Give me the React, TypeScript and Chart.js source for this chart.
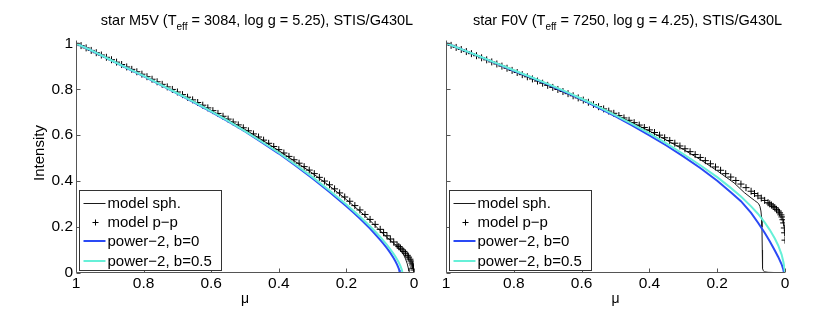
import React, { useEffect, useRef } from "react";
import { Chart, registerables } from "chart.js";

Chart.register(...registerables);

const FONT = '"Liberation Sans", Arial, Helvetica, sans-serif';

const X_TICKS = [0, 0.2, 0.4, 0.6, 0.8, 1];
const Y_TICKS = [0, 0.2, 0.4, 0.6, 0.8, 1];
const LEGEND_LABELS = ["model sph.", "model p\u2212p", "power\u22122, b=0", "power\u22122, b=0.5"];
const TITLE_LEFT = ["star M5V (T", "eff", " = 3084, log g = 5.25), STIS/G430L"];
const TITLE_RIGHT = ["star F0V (T", "eff", " = 7250, log g = 4.25), STIS/G430L"];
const Y_LABEL = "Intensity";
const X_LABEL = "\u03bc";

// plane-parallel model grid (shared by both panels)
const PP_MU = [1, .985, .97, .955, .94, .925, .91, .895, .88, .865, .85, .835, .82, .805, .79, .775, .76, .745, .73, .715,
  .7, .685, .67, .655, .64, .625, .61, .595, .58, .565, .55, .535, .52, .505, .49, .475, .46, .445, .43, .415,
  .4, .385, .37, .355, .34, .325, .31, .295, .28, .265, .25, .235, .22, .205, .19, .175, .16, .145, .13, .115,
  .1, .09, .08, .07, .06, .05, .045, .04, .035, .03, .025, .02, .016, .012, .009, .006, .004, .002, .001, 0];

// ---- M5V panel ----
const L_PP_I = [1, .99, .98, .969, .959, .949, .939, .9285, .918, .9075, .897, .8865, .876, .8655, .8546, .8435, .8324, .8213, .8102, .7991,
  .788, .7766, .7652, .7538, .7422, .7305, .7188, .7069, .6946, .6823, .67, .6574, .6448, .6322, .619, .6055, .592, .5784, .5646, .5508,
  .537, .5223, .5076, .4929, .478, .463, .448, .4326, .4164, .4002, .384, .3663, .3486, .3309, .3124, .2935, .2746, .2548, .2332, .2116,
  .19, .176, .162, .148, .135, .122, .115, .108, .101, .094, .086, .077, .069, .06, .052, .043, .035, .026, .02, .013];

const L_SPH_MU = [1, .95, .9, .85, .8, .75, .7, .65, .6, .55, .5, .45, .4, .35, .3, .25, .2, .15, .12, .1, .08, .06, .05, .04, .035, .03, .025, .02, .017, .015, .013, .01, 0];
const L_SPH_I = [1, .965, .93, .895, .859, .822, .785, .747, .708, .667, .625, .58, .533, .484, .434, .379, .32, .256, .214, .184, .155, .13, .116, .099, .089, .077, .061, .04, .022, .009, .002, 0, 0];

const L_B0_MU = [1, .95, .9, .85, .8, .75, .7, .65, .6, .55, .5, .45, .4, .35, .3, .25, .2, .18, .16, .13, .11, .1, .09, .08, .07, .06, .055, .05, .045, .044, .042];
const L_B0_I = [1, .9655, .929, .8925, .857, .819, .781, .742, .702, .66, .616, .569, .52, .467, .412, .353, .291, .2645, .237, .1935, .1612, .1443, .1267, .1079, .0874, .0644, .0514, .0368, .0187, .0141, 0];

const L_B05_MU = [1, .95, .9, .85, .8, .75, .7, .65, .6, .55, .5, .45, .4, .35, .3, .25, .2, .18, .16, .13, .11, .1, .09, .08, .07, .06, .055, .05, .045, .04, .036, .034, 0];
const L_B05_I = [1, .966, .9295, .8932, .858, .82, .7825, .7435, .7035, .662, .618, .5715, .5235, .4715, .4175, .359, .2985, .2725, .246, .2035, .173, .157, .1402, .1223, .1033, .0825, .0712, .0591, .0456, .03, .014, 0, 0];

// ---- F0V panel ----
const R_PP_I = [1, .991, .982, .973, .964, .955, .946, .937, .928, .919, .91, .9007, .8914, .8821, .8728, .8635, .8542, .8449, .8356, .8263,
  .817, .808, .799, .79, .7808, .7715, .7622, .7528, .7432, .7336, .724, .7144, .7048, .6952, .6852, .675, .6648, .6545, .644, .6335,
  .623, .6116, .6002, .5888, .577, .565, .553, .5408, .5282, .5156, .503, .4892, .4754, .4616, .4472, .4325, .4178, .4028, .3872, .3716,
  .356, .346, .336, .326, .316, .306, .301, .296, .29, .284, .277, .27, .262, .253, .244, .232, .218, .196, .175, .143];

const R_SPH_MU = [1, .95, .9, .85, .8, .75, .7, .65, .6, .55, .5, .45, .4, .35, .3, .25, .2, .15, .12, .1, .09, .08, .078, .074, .071, .069, .068, .067, .0665, .066, .064, .06, .05, .03, .015, 0];
const R_SPH_I = [1, .97, .94, .91, .879, .848, .817, .786, .755, .722, .689, .654, .618, .579, .538, .494, .445, .392, .35, .327, .316, .305, .302, .29, .27, .24, .2, .1, .04, .02, .01, .005, .003, .002, .001, 0];

const R_B0_MU = [1, .95, .9, .85, .8, .75, .7, .65, .6, .55, .5, .45, .4, .35, .3, .25, .2, .16, .13, .1, .08, .06, .045, .03, .02, .01, .005, .003];
const R_B0_I = [1, .9712, .9417, .9115, .8806, .852, .8215, .789, .7555, .7195, .6815, .6415, .5995, .555, .5075, .457, .402, .3518, .3126, .262, .22, .175, .138, .098, .07, .038, .015, 0];

const R_B05_MU = [1, .95, .9, .85, .8, .75, .7, .65, .6, .55, .5, .45, .4, .35, .3, .25, .2, .16, .13, .1, .08, .06, .045, .03, .02, .01, .005, .002, 0];
const R_B05_I = [1, .9713, .9425, .9127, .8825, .8535, .8235, .7915, .7585, .7235, .6865, .648, .6075, .564, .518, .469, .4175, .3705, .333, .29, .258, .22, .188, .15, .12, .08, .05, .025, 0];

const C_SPH = "#1a1a1a";
const C_PP = "#000000";
const C_B0 = "#2a4af5";
const C_B05 = "#66f0d8";
const C_AXIS = "#555555";

const pts = (mu: number[], v: number[]) => mu.map((m, i) => ({ x: m, y: v[i] }));

function makeDecor(title: string[], showYLabel: boolean) {
  return {
    id: "decor",
    afterDraw(chart: any) {
      const ctx = chart.ctx as CanvasRenderingContext2D;
      const { left, right, top, bottom } = chart.chartArea;
      const xs = chart.scales.x;
      const ys = chart.scales.y;
      ctx.save();
      // axes
      ctx.strokeStyle = C_AXIS;
      ctx.lineWidth = 1;
      ctx.beginPath();
      const axX = Math.round(left) + 0.5;
      const axY = Math.round(bottom) - 0.5;
      ctx.moveTo(axX, top - 0.5);
      ctx.lineTo(axX, axY);
      ctx.lineTo(right, axY);
      ctx.stroke();
      // inward ticks
      ctx.beginPath();
      for (const t of xs.ticks) {
        const px = Math.round(xs.getPixelForValue(t.value)) + 0.5;
        ctx.moveTo(px, axY);
        ctx.lineTo(px, axY - 4);
      }
      for (const t of ys.ticks) {
        const py = Math.round(ys.getPixelForValue(t.value)) + 0.5;
        ctx.moveTo(axX, py);
        ctx.lineTo(axX + 4, py);
      }
      ctx.stroke();

      // title with subscript
      ctx.fillStyle = "#000";
      ctx.textBaseline = "alphabetic";
      ctx.textAlign = "left";
      const big = `14.5px ${FONT}`;
      const small = `10px ${FONT}`;
      ctx.font = big;
      const w1 = ctx.measureText(title[0]).width;
      const w3 = ctx.measureText(title[2]).width;
      ctx.font = small;
      const w2 = ctx.measureText(title[1]).width;
      let tx = (left + right) / 2 + 12 - (w1 + w2 + w3) / 2;
      const base = 25;
      ctx.font = big;
      ctx.fillText(title[0], tx, base);
      tx += w1;
      ctx.font = small;
      ctx.fillText(title[1], tx, base + 4.5);
      tx += w2;
      ctx.font = big;
      ctx.fillText(title[2], tx, base);

      // axis labels
      ctx.textAlign = "center";
      ctx.textBaseline = "middle";
      ctx.font = `14px ${FONT}`;
      ctx.fillText(X_LABEL, (left + right) / 2, 299);
      if (showYLabel) {
        ctx.save();
        ctx.translate(40, 153);
        ctx.rotate(-Math.PI / 2);
        ctx.font = `15px ${FONT}`;
        ctx.fillText(Y_LABEL, 0, 0);
        ctx.restore();
      }

      // legend
      const bx = Math.round(left) + 3.5;
      const by = 190.5;
      const bw = 142;
      const bh = 80;
      ctx.fillStyle = "#fff";
      ctx.fillRect(bx, by, bw, bh);
      ctx.strokeStyle = "#333";
      ctx.lineWidth = 1;
      ctx.strokeRect(bx, by, bw, bh);
      ctx.textAlign = "left";
      ctx.textBaseline = "middle";
      ctx.font = `15px ${FONT}`;
      LEGEND_LABELS.forEach((lab, i) => {
        const cy = Math.round(by + 12.5 + i * 19.2) + 0.5;
        if (i === 1) {
          const cx = Math.round(bx + 15) + 0.5;
          ctx.strokeStyle = C_PP;
          ctx.lineWidth = 1;
          ctx.beginPath();
          ctx.moveTo(cx - 3, cy);
          ctx.lineTo(cx + 3, cy);
          ctx.moveTo(cx, cy - 3);
          ctx.lineTo(cx, cy + 3);
          ctx.stroke();
        } else {
          ctx.strokeStyle = i === 0 ? C_SPH : i === 2 ? C_B0 : C_B05;
          ctx.lineWidth = i === 0 ? 1 : 2;
          ctx.beginPath();
          ctx.moveTo(bx + 4, i === 0 ? cy : cy - 0.5);
          ctx.lineTo(bx + 26, i === 0 ? cy : cy - 0.5);
          ctx.stroke();
        }
        ctx.fillStyle = "#000";
        ctx.fillText(lab, bx + 28, cy);
      });
      ctx.restore();
    },
  };
}

type PanelProps = {
  left: number;
  width: number;
  yWidth: number;
  padRight: number;
  showY: boolean;
  title: string[];
  sph: { mu: number[]; v: number[] };
  pp: number[];
  b0: { mu: number[]; v: number[] };
  b05: { mu: number[]; v: number[] };
};

function Panel(p: PanelProps) {
  const ref = useRef<HTMLCanvasElement>(null);
  useEffect(() => {
    if (!ref.current) return;
    const chart = new Chart(ref.current, {
      type: "line",
      data: {
        datasets: [
          {
            label: LEGEND_LABELS[0],
            data: pts(p.sph.mu, p.sph.v),
            borderColor: C_SPH,
            borderWidth: 1,
            pointRadius: 0,
            tension: 0,
            order: 4,
          },
          {
            label: LEGEND_LABELS[1],
            data: pts(PP_MU, p.pp),
            showLine: false,
            pointStyle: "cross",
            pointRadius: 3.5,
            pointBorderWidth: 1,
            pointBorderColor: C_PP,
            pointBackgroundColor: C_PP,
            order: 3,
          },
          {
            label: LEGEND_LABELS[2],
            data: pts(p.b0.mu, p.b0.v),
            borderColor: C_B0,
            borderWidth: 2,
            pointRadius: 0,
            tension: 0,
            order: 2,
          },
          {
            label: LEGEND_LABELS[3],
            data: pts(p.b05.mu, p.b05.v),
            borderColor: C_B05,
            borderWidth: 2,
            pointRadius: 0,
            tension: 0,
            order: 1,
          },
        ] as any,
      },
      options: {
        animation: false,
        responsive: false,
        devicePixelRatio: 1,
        events: [],
        layout: { padding: { left: 0, right: p.padRight, top: 41, bottom: 0 } },
        plugins: {
          legend: { display: false },
          tooltip: { enabled: false },
          title: { display: false },
        },
        scales: {
          x: {
            type: "linear",
            min: 0,
            max: 1,
            reverse: true,
            afterBuildTicks: (s: any) => {
              s.ticks = X_TICKS.map((v) => ({ value: v }));
            },
            afterFit: (s: any) => {
              s.height = 47;
            },
            grid: { display: false, drawTicks: false },
            border: { display: false },
            ticks: {
              color: "#000",
              font: { family: FONT, size: 15.5 },
              padding: 1,
              maxRotation: 0,
              autoSkip: false,
              callback: (v: any) => String(v),
            },
          },
          y: {
            type: "linear",
            min: 0,
            max: 1.01,
            afterBuildTicks: (s: any) => {
              s.ticks = Y_TICKS.map((v) => ({ value: v }));
            },
            afterFit: (s: any) => {
              s.width = p.yWidth;
            },
            grid: { display: false, drawTicks: false },
            border: { display: false },
            ticks: {
              display: p.showY,
              color: "#000",
              font: { family: FONT, size: 15.5 },
              padding: 3,
              callback: (v: any) => String(v),
            },
          },
        },
      } as any,
      plugins: [makeDecor(p.title, p.showY)],
    });
    return () => chart.destroy();
  }, []);
  return (
    <canvas
      ref={ref}
      width={p.width}
      height={320}
      style={{ position: "absolute", left: p.left, top: 0, width: p.width, height: 320 }}
    />
  );
}

export default function App() {
  useEffect(() => {
    document.body.style.margin = "0";
    document.body.style.background = "#fff";
  }, []);
  return (
    <div style={{ position: "absolute", left: 0, top: 0, width: 830, height: 320, background: "#fff" }}>
      <Panel
        left={0}
        width={420}
        yWidth={76}
        padRight={6}
        showY={true}
        title={TITLE_LEFT}
        sph={{ mu: L_SPH_MU, v: L_SPH_I }}
        pp={L_PP_I}
        b0={{ mu: L_B0_MU, v: L_B0_I }}
        b05={{ mu: L_B05_MU, v: L_B05_I }}
      />
      <Panel
        left={420}
        width={410}
        yWidth={26}
        padRight={45}
        showY={false}
        title={TITLE_RIGHT}
        sph={{ mu: R_SPH_MU, v: R_SPH_I }}
        pp={R_PP_I}
        b0={{ mu: R_B0_MU, v: R_B0_I }}
        b05={{ mu: R_B05_MU, v: R_B05_I }}
      />
    </div>
  );
}
